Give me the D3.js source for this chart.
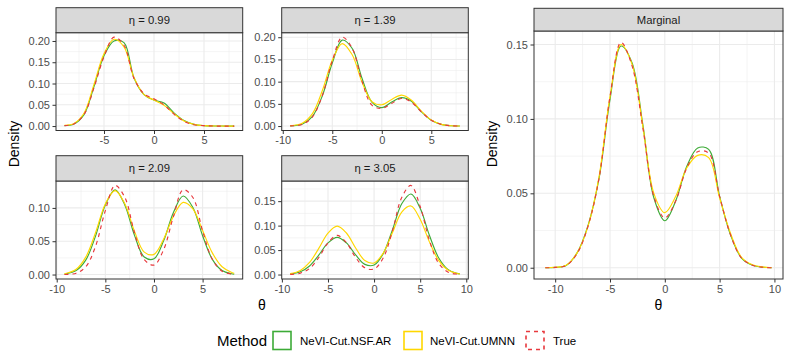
<!DOCTYPE html>
<html>
<head>
<meta charset="utf-8">
<script src="https://cdn.jsdelivr.net/npm/d3@7"></script>
<style>
  body { margin: 0; background: #fff; }
  svg { font-family: "Liberation Sans", Arial, sans-serif; display: block; }
</style>
</head>
<body>
<div id="chart"></div>
<script>
// density values at a theta grid (one grid per panel)
const methods = ["NeVI-Cut.NSF.AR", "NeVI-Cut.UMNN", "True"];
const etaLabels = ["η = 0.99", "η = 1.39", "η = 2.09", "η = 3.05"];
const margLabel = "Marginal";

const theta099 = [-8.95, -8, -7, -6, -5, -4, -3, -2, -1, 0, 1, 2, 3, 4, 5, 6, 7, 8.02];
const nsf099  = [0.001, 0.005, 0.027, 0.093, 0.165, 0.2, 0.196, 0.113, 0.074, 0.061, 0.054, 0.031, 0.013, 0.004, 0.001, 0.0002, 0, 0];
const umnn099 = [0.002, 0.006, 0.03, 0.098, 0.17, 0.204, 0.186, 0.114, 0.074, 0.061, 0.049, 0.029, 0.012, 0.004, 0.001, 0.0002, 0, 0];
const true099 = [0.001, 0.005, 0.027, 0.09, 0.163, 0.209, 0.19, 0.112, 0.076, 0.064, 0.05, 0.028, 0.011, 0.003, 0.001, 0, 0, 0];

const theta139 = [-9.25, -8, -7, -6, -5, -4, -3, -2, -1, 0, 1, 2, 3, 4, 5, 6, 7, 7.88];
const nsf139  = [0.0004, 0.0046, 0.0218, 0.0683, 0.1416, 0.1935, 0.1751, 0.1075, 0.0537, 0.0415, 0.054, 0.064, 0.056, 0.032, 0.0131, 0.0039, 0.0008, 0.0001];
const umnn139 = [0.0007, 0.007, 0.028, 0.08, 0.148, 0.1857, 0.161, 0.0994, 0.055, 0.048, 0.06, 0.0695, 0.058, 0.0335, 0.0135, 0.0038, 0.0008, 0.0002];
const true139 = [0.0003, 0.004, 0.0208, 0.0689, 0.1467, 0.2002, 0.1758, 0.1011, 0.047, 0.04, 0.051, 0.062, 0.0535, 0.0319, 0.0132, 0.0038, 0.0008, 0.0001];

const theta209 = [-9.2, -8, -7, -6, -5, -4, -3, -2, -1, 0, 1, 2, 3, 4, 5, 6, 7, 8, 8.25];
const nsf209  = [0.0007, 0.006, 0.022, 0.0581, 0.1045, 0.127, 0.1045, 0.0588, 0.0263, 0.0236, 0.051, 0.0932, 0.1178, 0.1007, 0.0583, 0.0228, 0.0061, 0.0011, 0.0006];
const umnn209 = [0.0012, 0.0079, 0.0265, 0.0631, 0.106, 0.126, 0.1063, 0.0648, 0.0337, 0.0303, 0.0534, 0.0876, 0.1083, 0.0987, 0.0661, 0.0325, 0.0117, 0.0031, 0.002];
const true209 = [0.0001, 0.002, 0.0118, 0.0427, 0.0959, 0.1337, 0.116, 0.0625, 0.0225, 0.0142, 0.0376, 0.087, 0.1272, 0.1157, 0.0654, 0.023, 0.005, 0.0007, 0.0004];

const theta305 = [-9.1, -8, -7, -6, -5, -4, -3, -2, -1, 0, 1, 2, 3, 4, 5, 6, 7, 8, 9, 9.3];
const nsf305  = [0.0012, 0.0056, 0.0175, 0.0396, 0.0646, 0.076, 0.0647, 0.0402, 0.0208, 0.0194, 0.0431, 0.0917, 0.1446, 0.1647, 0.1354, 0.0803, 0.0344, 0.0106, 0.0024, 0.0014];
const umnn305 = [0.0019, 0.0084, 0.0247, 0.0534, 0.0848, 0.099, 0.0849, 0.0542, 0.0287, 0.0236, 0.0441, 0.0859, 0.1277, 0.1401, 0.1129, 0.0668, 0.029, 0.0093, 0.0022, 0.0014];
const true305 = [0.0003, 0.0029, 0.0123, 0.0348, 0.065, 0.08, 0.065, 0.0349, 0.0137, 0.0113, 0.0342, 0.0897, 0.1575, 0.1821, 0.139, 0.0699, 0.0232, 0.0051, 0.0007, 0.0004];

const thetaMarg = [-10.9, -10, -9, -8, -7, -6, -5, -4, -3, -2, -1, 0, 1, 2, 3, 4, 5, 6, 7, 8, 9, 9.75];
const nsfMarg  = [0, 0.0002, 0.0015, 0.01, 0.0285, 0.06, 0.113, 0.149, 0.138, 0.096, 0.047, 0.0316, 0.045, 0.068, 0.0805, 0.0795, 0.048, 0.022, 0.0065, 0.0017, 0.0003, 0];
const umnnMarg = [0, 0.0003, 0.0017, 0.01, 0.028, 0.061, 0.115, 0.15, 0.137, 0.095, 0.05, 0.037, 0.048, 0.067, 0.0755, 0.074, 0.047, 0.023, 0.007, 0.002, 0.0004, 0];
const trueMarg = [0, 0.0002, 0.0015, 0.0095, 0.028, 0.06, 0.115, 0.1515, 0.136, 0.094, 0.048, 0.0335, 0.045, 0.067, 0.078, 0.077, 0.048, 0.022, 0.0065, 0.0017, 0.0003, 0];

// styles
const colors = ["#3dab37", "#ffd700", "#e8383d"];
const dashes = [null, null, "4,4"];

const width = 793, height = 357;

const svg = d3.select("#chart")
  .append("svg")
  .attr("width", width)
  .attr("height", height);

// panel boxes: x0,x1 plot, s0 strip top, y0 plot top, y1 plot bottom
const panels = [
  { label: etaLabels[0], theta: theta099, series: [nsf099, umnn099, true099], x0: 56, x1: 242.7, s0: 7.7, y0: 32.7, y1: 130.5 },
  { label: etaLabels[1], theta: theta139, series: [nsf139, umnn139, true139], x0: 281.7, x1: 468.3, s0: 7.7, y0: 32.7, y1: 130.5 },
  { label: etaLabels[2], theta: theta209, series: [nsf209, umnn209, true209], x0: 56, x1: 242.7, s0: 155.7, y0: 181, y1: 279 },
  { label: etaLabels[3], theta: theta305, series: [nsf305, umnn305, true305], x0: 281.7, x1: 468.3, s0: 155.7, y0: 181, y1: 279 },
  { label: margLabel, theta: thetaMarg, series: [nsfMarg, umnnMarg, trueMarg], x0: 534, x1: 783, s0: 8.3, y0: 31, y1: 279 }
];

function drawPanel(p) {
  let [lo, hi] = d3.extent(p.theta);
  let pad = (hi - lo) * 0.05;
  let x = d3.scaleLinear().domain([lo - pad, hi + pad]).range([p.x0, p.x1]);

  let ymax = d3.max(p.series, s => d3.max(s));
  let y = d3.scaleLinear().domain([-0.05 * ymax, 1.05 * ymax]).range([p.y1, p.y0]);

  let [dx0, dx1] = x.domain();
  let xMajor = d3.range(Math.ceil(dx0 / 5) * 5, dx1 + 1e-9, 5);
  let xMinor = d3.range(Math.ceil((dx0 - 2.5) / 5) * 5 + 2.5, dx1, 5).filter(v => v > dx0);
  let yMajor = d3.range(0, 1.05 * ymax + 1e-9, 0.05).map(v => +v.toFixed(2));
  let yMinor = d3.range(0.025, 1.05 * ymax, 0.05);

  let g = svg.append("g");

  g.append("rect")
    .attr("x", p.x0).attr("y", p.y0)
    .attr("width", p.x1 - p.x0).attr("height", p.y1 - p.y0)
    .attr("fill", "#fff");

  // grid
  g.selectAll(".xminor").data(xMinor).join("line")
    .attr("x1", d => x(d)).attr("x2", d => x(d))
    .attr("y1", p.y0).attr("y2", p.y1)
    .attr("stroke", "#ebebeb").attr("stroke-width", 0.55);
  g.selectAll(".yminor").data(yMinor).join("line")
    .attr("y1", d => y(d)).attr("y2", d => y(d))
    .attr("x1", p.x0).attr("x2", p.x1)
    .attr("stroke", "#ebebeb").attr("stroke-width", 0.55);
  g.selectAll(".xmajor").data(xMajor).join("line")
    .attr("x1", d => x(d)).attr("x2", d => x(d))
    .attr("y1", p.y0).attr("y2", p.y1)
    .attr("stroke", "#ebebeb").attr("stroke-width", 1.1);
  g.selectAll(".ymajor").data(yMajor).join("line")
    .attr("y1", d => y(d)).attr("y2", d => y(d))
    .attr("x1", p.x0).attr("x2", p.x1)
    .attr("stroke", "#ebebeb").attr("stroke-width", 1.1);

  // density curves
  p.series.forEach((s, i) => {
    let pts = p.theta.map((t, j) => [t, s[j]]);
    let line = d3.line()
      .x(d => x(d[0]))
      .y(d => y(d[1]))
      .curve(d3.curveCatmullRom.alpha(0.5));
    g.append("path")
      .datum(pts)
      .attr("fill", "none")
      .attr("stroke", colors[i])
      .attr("stroke-width", 1.15)
      .attr("stroke-dasharray", dashes[i])
      .attr("d", line);
  });

  // border
  g.append("rect")
    .attr("x", p.x0).attr("y", p.y0)
    .attr("width", p.x1 - p.x0).attr("height", p.y1 - p.y0)
    .attr("fill", "none").attr("stroke", "#333").attr("stroke-width", 1);

  // strip
  g.append("rect")
    .attr("x", p.x0).attr("y", p.s0)
    .attr("width", p.x1 - p.x0).attr("height", p.y0 - p.s0)
    .attr("fill", "#d9d9d9").attr("stroke", "#333").attr("stroke-width", 1);
  g.append("text")
    .text(p.label)
    .attr("x", (p.x0 + p.x1) / 2)
    .attr("y", (p.s0 + p.y0) / 2)
    .attr("text-anchor", "middle")
    .attr("dominant-baseline", "central")
    .attr("font-size", 11.3)
    .attr("fill", "#1a1a1a");

  // axes
  let ax = g.append("g")
    .attr("transform", `translate(0,${p.y1})`)
    .call(d3.axisBottom(x).tickValues(xMajor).tickFormat(d3.format("d")).tickSize(3.5).tickPadding(2.5));
  let ay = g.append("g")
    .attr("transform", `translate(${p.x0},0)`)
    .call(d3.axisLeft(y).tickValues(yMajor).tickFormat(d3.format(".2f")).tickSize(3.5).tickPadding(2.5));
  for (let a of [ax, ay]) {
    a.select(".domain").remove();
    a.selectAll(".tick line").attr("stroke", "#333");
    a.selectAll(".tick text")
      .attr("fill", "#4d4d4d")
      .attr("font-size", 11)
      .attr("font-family", "Liberation Sans, Arial, sans-serif");
  }
  ax.selectAll(".tick text").text(d => d < 0 ? "-" + Math.abs(d) : d);
}

panels.forEach(drawPanel);

// axis titles
svg.append("text").text("θ")
  .attr("x", 262).attr("y", 310)
  .attr("text-anchor", "middle").attr("font-size", 14).attr("fill", "#000");
svg.append("text").text("θ")
  .attr("x", 658.5).attr("y", 310)
  .attr("text-anchor", "middle").attr("font-size", 14).attr("fill", "#000");
svg.append("text").text("Density")
  .attr("transform", "translate(18.5,144) rotate(-90)")
  .attr("text-anchor", "middle").attr("font-size", 14).attr("fill", "#000");
svg.append("text").text("Density")
  .attr("transform", "translate(497,144) rotate(-90)")
  .attr("text-anchor", "middle").attr("font-size", 14).attr("fill", "#000");

// legend
let legend = svg.append("g");
legend.append("text").text("Method")
  .attr("x", 217).attr("y", 345.5)
  .attr("font-size", 15).attr("fill", "#000");

let keyX = [273, 404, 526];
let labX = [300, 430, 553];
methods.forEach((m, i) => {
  legend.append("rect")
    .attr("x", keyX[i]).attr("y", 331.5)
    .attr("width", 18).attr("height", 18)
    .attr("fill", "#fff")
    .attr("stroke", colors[i])
    .attr("stroke-width", 1.6)
    .attr("stroke-dasharray", dashes[i]);
  legend.append("text").text(m)
    .attr("x", labX[i]).attr("y", 344.5)
    .attr("font-size", 11.5).attr("fill", "#000");
});
</script>
</body>
</html>
